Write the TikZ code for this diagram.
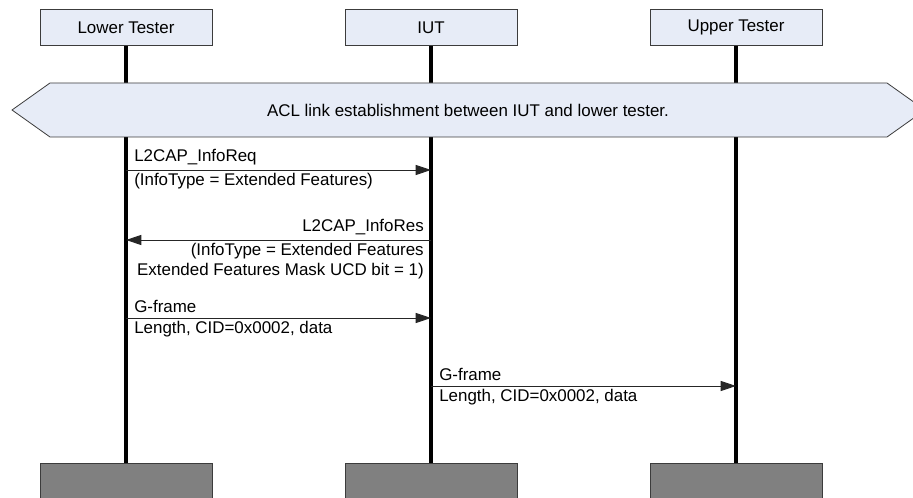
\documentclass[tikz,border=0pt]{standalone}
\usepackage{fontspec}
\setmainfont{Liberation Sans}
\usetikzlibrary{arrows.meta}
\definecolor{boxblue}{RGB}{231,236,247}
\definecolor{boxline}{RGB}{60,60,60}
\definecolor{endgray}{RGB}{128,128,128}

\begin{document}
\begin{tikzpicture}[x=0.75pt, y=-0.75pt,
    font=\fontsize{12.7}{15}\selectfont,
    entity/.style={draw=boxline, fill=boxblue, line width=0.6pt, minimum width=129pt, minimum height=27.5pt, inner sep=0pt},
    endbox/.style={draw=boxline, fill=endgray, line width=0.6pt, minimum width=129pt, minimum height=40pt, inner sep=0pt, anchor=north},
    lifeline/.style={line width=3pt},
    msg/.style={draw=black!85, line width=0.7pt, -{Triangle[length=11.5pt, width=7.5pt]}},
    lbl/.style={inner sep=0pt, align=left}
]
    \clip (0,0) rectangle (913,498);
    \useasboundingbox (0,0) rectangle (913,498);

    % header boxes
    \node[entity] (lt) at (126,27.5) {Lower Tester};
    \node[entity] (iut) at (431,27.5) {IUT};
    \node[entity] (ut) at (736,27.5) {Upper Tester};

    % end boxes
    \node[endbox] (ltEnd) at (126,463) {};
    \node[endbox] (iutEnd) at (431,463) {};
    \node[endbox] (utEnd) at (736,463) {};

    % lifelines
    \draw[lifeline] (lt.south) -- (ltEnd.north);
    \draw[lifeline] (iut.south) -- (iutEnd.north);
    \draw[lifeline] (ut.south) -- (utEnd.north);

    % ACL banner
    \draw[draw=boxline, fill=boxblue, line width=0.6pt]
        (12,110) -- (50,83) -- (887,83) -- (925,110) -- (887,137) -- (50,137) -- cycle;
    \node (acl) at (468,110) {ACL link establishment between IUT and lower tester.};

    % L2CAP_InfoReq
    \coordinate (reqA) at (lt |- 0,170);
    \coordinate (reqB) at (iut |- 0,170);
    \draw[msg] (reqA) -- (reqB);
    \node[lbl, anchor=south west] (reqTop) at (134,165) {L2CAP\_InfoReq};
    \node[lbl, anchor=north west] (reqBot) at (134,173) {(InfoType = Extended Features)};

    % L2CAP_InfoRes
    \coordinate (resA) at (iut |- 0,240);
    \coordinate (resB) at (lt |- 0,240);
    \draw[msg] (resA) -- (resB);
    \node[lbl, anchor=south east] (resTop) at (424,235) {L2CAP\_InfoRes};
    \node[lbl, anchor=north east, align=right] (resBot) at (424,243)
        {(InfoType = Extended Features\\Extended Features Mask UCD bit = 1)};

    % G-frame to IUT
    \coordinate (gfA) at (lt |- 0,318);
    \coordinate (gfB) at (iut |- 0,318);
    \draw[msg] (gfA) -- (gfB);
    \node[lbl, anchor=south west] (gfTop) at (134,313) {G-frame};
    \node[lbl, anchor=north west] (gfBot) at (134,321) {Length, CID=0x0002, data};

    % G-frame to Upper Tester
    \coordinate (ugA) at (iut |- 0,386);
    \coordinate (ugB) at (ut |- 0,386);
    \draw[msg] (ugA) -- (ugB);
    \node[lbl, anchor=south west] (ugTop) at (439,381) {G-frame};
    \node[lbl, anchor=north west] (ugBot) at (439,389) {Length, CID=0x0002, data};
\end{tikzpicture}
\end{document}
